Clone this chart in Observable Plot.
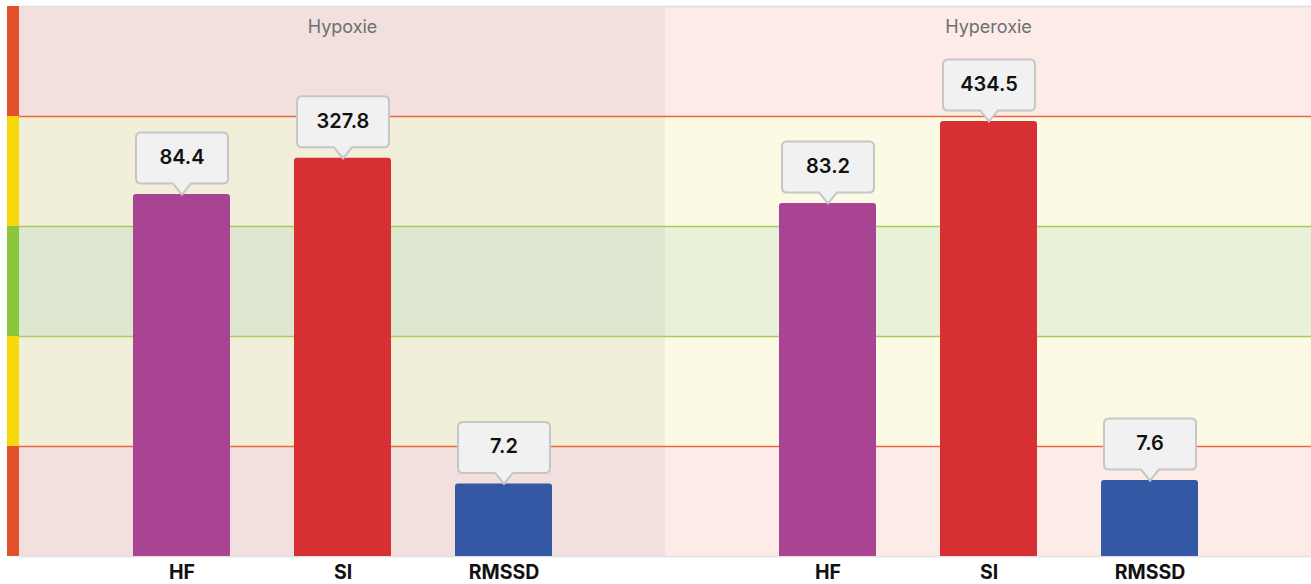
<!DOCTYPE html>
<html>
<head>
<meta charset="utf-8">
<script src="https://cdn.jsdelivr.net/npm/d3@7"></script>
<script src="https://cdn.jsdelivr.net/npm/@observablehq/plot@0.6"></script>
<style>
  html, body { margin: 0; padding: 0; background: #fff; }
  #chart svg { display: block; }
</style>
</head>
<body>
<div id="chart"></div>
<script>
// ---- data ----
const conditions = ["Hypoxie", "Hyperoxie"];
const metrics = ["HF", "SI", "RMSSD"];
const hypoxieValues = [84.4, 327.8, 7.2];
const hyperoxieValues = [83.2, 434.5, 7.6];
// bar height on the 5-zone scale (0..5)
const hypoxieLevels = [3.29, 3.62, 0.66];
const hyperoxieLevels = [3.21, 3.955, 0.69];
const zoneLow = [0, 1, 2, 3, 4];
const zoneHigh = [1, 2, 3, 4, 5];
const zoneKind = ["critical", "warning", "normal", "warning", "critical"];
const boundaries = [1, 2, 3, 4];
const boundaryKind = ["critical", "normal", "normal", "critical"];

// ---- styles ----
const metricColors = {HF: "#a94493", SI: "#d63035", RMSSD: "#3458a3"};
const zoneFill = {critical: "#fcebe7", warning: "#fcf9e4", normal: "#e9f2d9"};
const stripFill = {critical: "#e4502a", warning: "#f5d90a", normal: "#8cc63f"};
const lineColor = {critical: "#e8693d", normal: "#a6cd5b"};

const valuesBy = [hypoxieValues, hyperoxieValues];
const levelsBy = [hypoxieLevels, hyperoxieLevels];
const rows = conditions.flatMap((c, i) => metrics.map((m, j) => ({
  condition: c, metric: m, value: valuesBy[i][j], level: levelsBy[i][j]
})));
const zones = zoneLow.map((lo, i) => ({lo, hi: zoneHigh[i], kind: zoneKind[i]}));
const stripData = zones.map(z => ({...z, panel: conditions[0]}));
const lines = boundaries.map((b, i) => ({b, kind: boundaryKind[i]}));

// callout shape: tip of pointer at (0,0)
const callout = {
  draw(ctx) {
    const w = 46, t = 62, b = 11, r = 5, p = 9;
    ctx.moveTo(-p, -b);
    ctx.lineTo(0, 0);
    ctx.lineTo(p, -b);
    ctx.lineTo(w - r, -b);
    ctx.quadraticCurveTo(w, -b, w, -b - r);
    ctx.lineTo(w, -t + r);
    ctx.quadraticCurveTo(w, -t, w - r, -t);
    ctx.lineTo(-w + r, -t);
    ctx.quadraticCurveTo(-w, -t, -w, -t + r);
    ctx.lineTo(-w, -b - r);
    ctx.quadraticCurveTo(-w, -b, -w + r, -b);
    ctx.closePath();
  }
};

const W = 1311, H = 584;
const mL = 19, mR = 0, mT = 6, mB = 28;
const facetW = (W - mL - mR) / conditions.length;

const chart = Plot.plot({
  width: W,
  height: H,
  marginLeft: mL,
  marginRight: mR,
  marginTop: mT,
  marginBottom: mB,
  style: {fontFamily: "Inter, 'Noto Sans', sans-serif", background: "#fff"},
  fx: {domain: conditions, padding: 0, axis: null},
  x: {domain: metrics, paddingInner: 0.4, paddingOuter: 0.7, axis: null, label: null},
  y: {domain: [0, 5], axis: null},
  color: {type: "identity"},
  marks: [
    Plot.rectY(zones, {y1: "lo", y2: "hi", fill: d => zoneFill[d.kind]}),
    Plot.rect([conditions[0]], {fx: d => d, fill: "#000", fillOpacity: 0.045}),
    Plot.rectY(stripData, {fx: "panel", y1: "lo", y2: "hi", fill: d => stripFill[d.kind],
      insetLeft: -12, insetRight: facetW}),
    Plot.ruleY(lines, {y: "b", stroke: d => lineColor[d.kind], strokeWidth: 1.5}),
    Plot.ruleY([5], {stroke: "#e6dada", strokeWidth: 1.5}),
    Plot.ruleY([0], {stroke: "#e4e4e4", strokeWidth: 2}),
    Plot.barY(rows, {fx: "condition", x: "metric", y: "level", fill: d => metricColors[d.metric], ry1: 3}),
    Plot.dot(rows, {fx: "condition", x: "metric", y: "level", symbol: callout, r: 5,
      fill: "#f1f1f1", stroke: "#c6c6c6", strokeWidth: 2}),
    Plot.text(rows, {fx: "condition", x: "metric", y: "level", text: d => d.value.toFixed(1),
      dy: -37, fontSize: 20, fontWeight: 600, fill: "#111"}),
    Plot.text(conditions, {fx: d => d, text: d => d, frameAnchor: "top", dy: 14,
      fill: "#6f6f6f", fontSize: 18}),
    Plot.axisX({tickSize: 0, tickPadding: 9, fontSize: 19.5, fontWeight: 700, color: "#111", label: null})
  ]
});
document.getElementById("chart").appendChild(chart);
</script>
</body>
</html>
